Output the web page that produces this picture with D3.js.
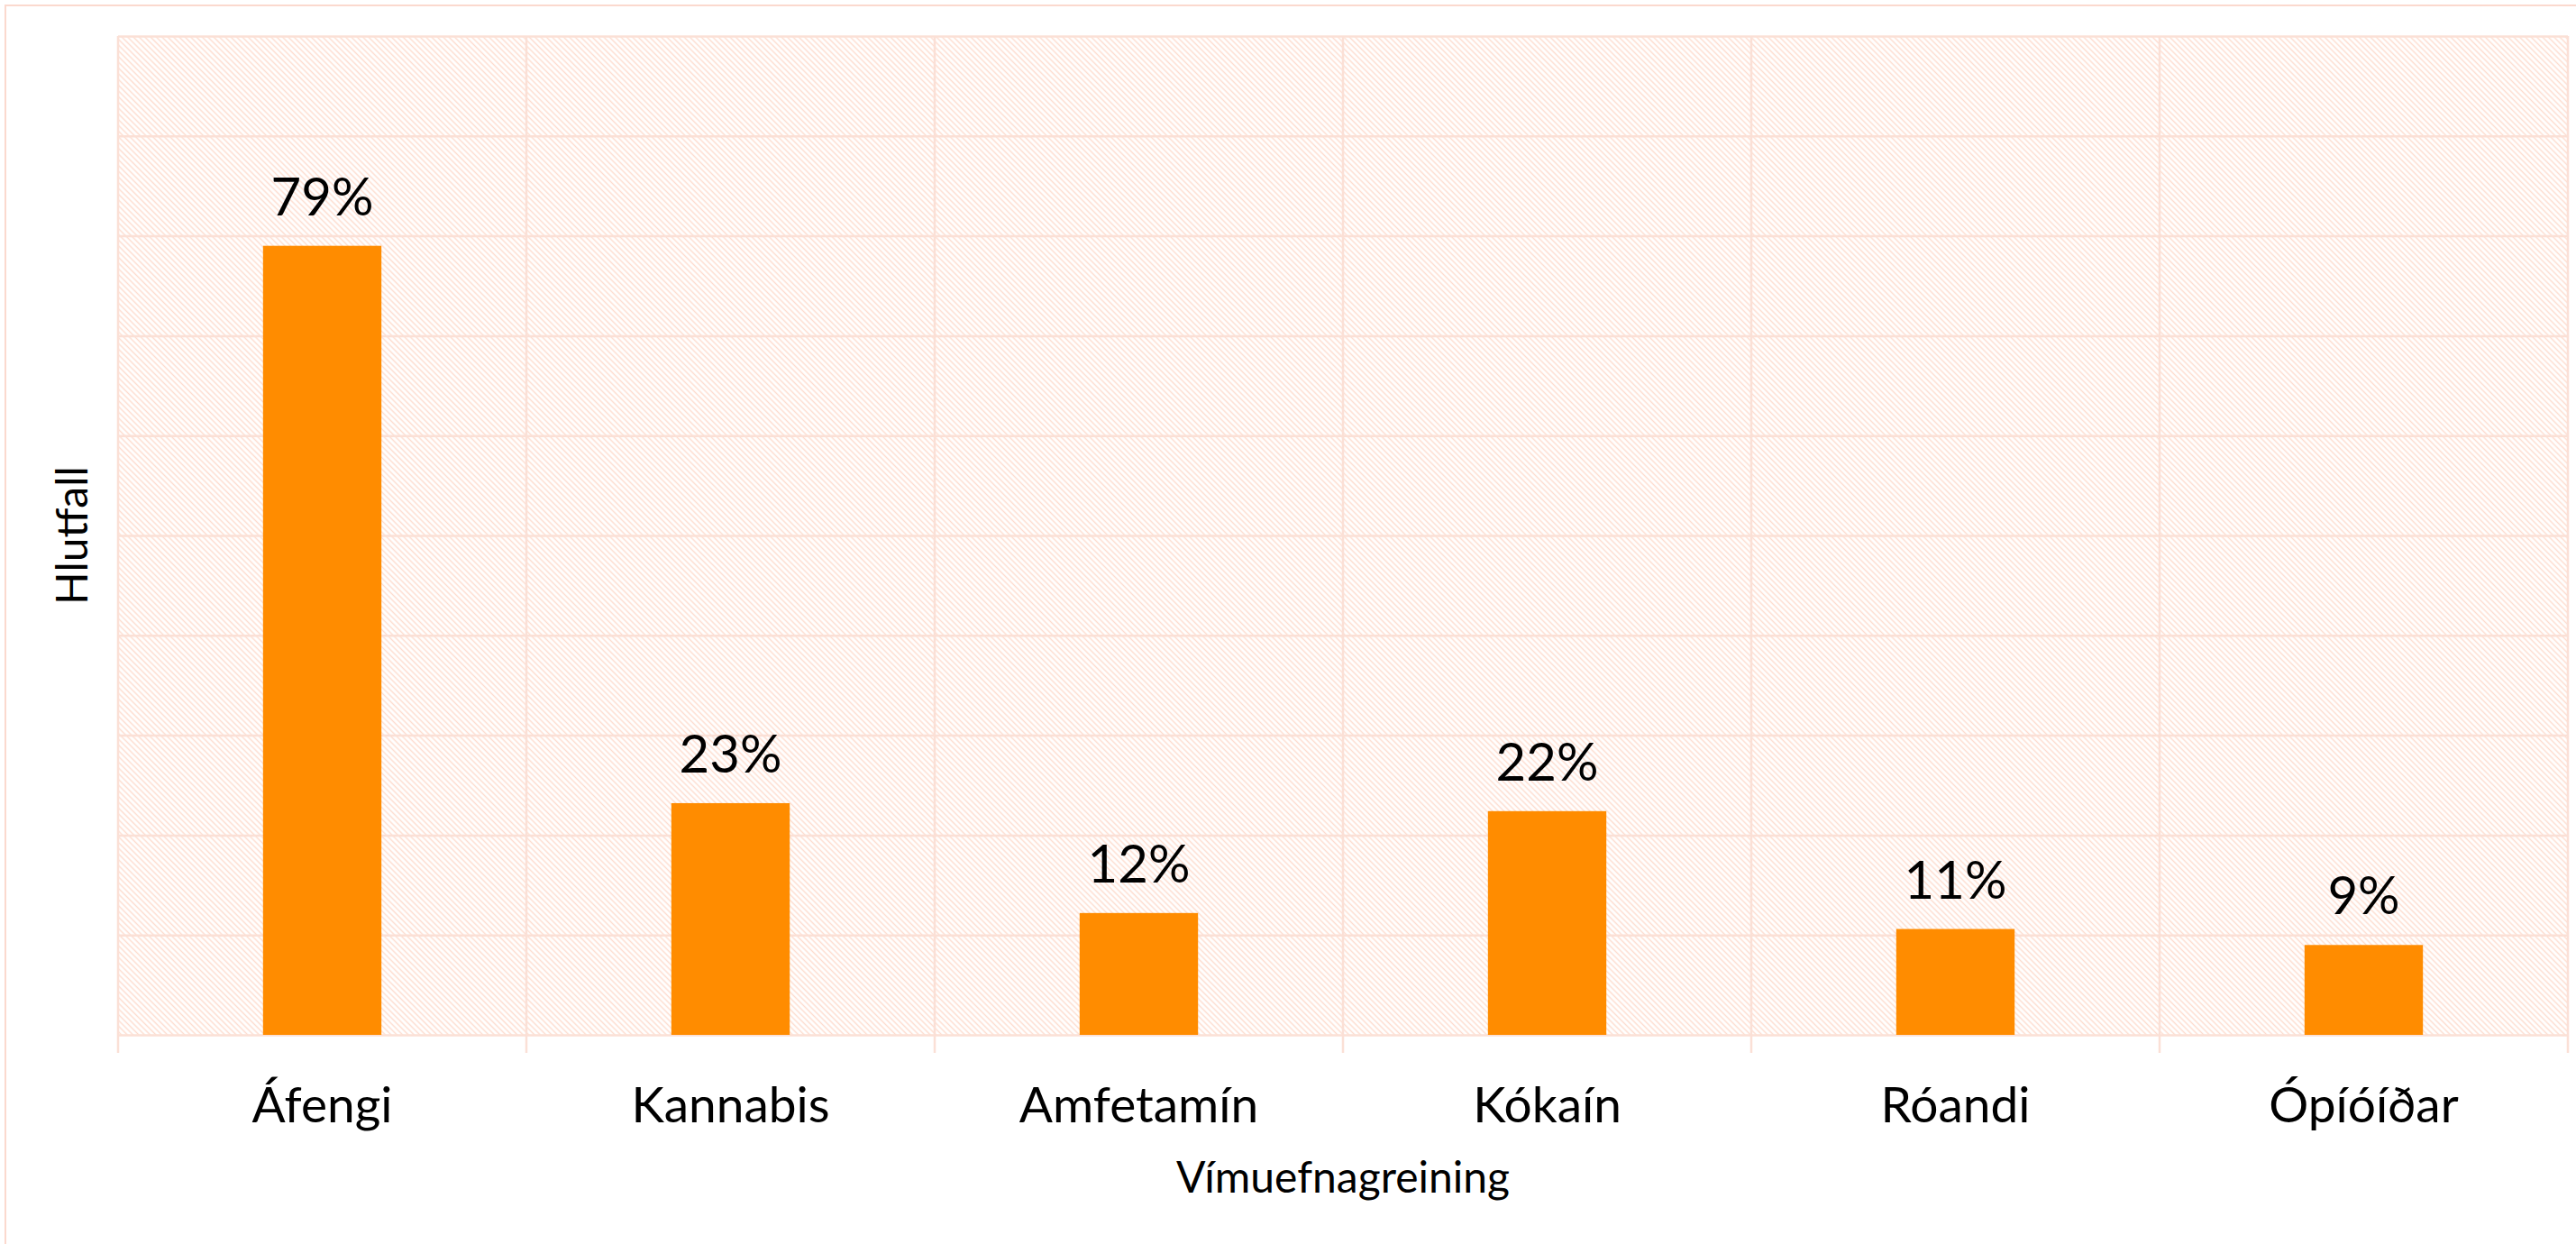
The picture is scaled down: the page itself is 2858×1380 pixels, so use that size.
<!DOCTYPE html>
<html>
<head>
<meta charset="utf-8">
<script src="https://cdn.jsdelivr.net/npm/d3@7"></script>
<style>
  body { margin: 0; background: #fff; }
  text { font-family: Lato, "Open Sans", sans-serif; fill: #000; }
</style>
</head>
<body>
<div id="main"></div>
<script>
// data
const categories = ['Áfengi', 'Kannabis', 'Amfetamín', 'Kókaín', 'Róandi', 'Ópíóíðar'];
const values = [0.79, 0.232, 0.122, 0.224, 0.106, 0.09];
const yTicks = [0, 0.1, 0.2, 0.3, 0.4, 0.5, 0.6, 0.7, 0.8, 0.9, 1.0];
const xTitle = 'Vímuefnagreining';
const yTitle = 'Hlutfall';

const width = 2858;
const height = 1380;
const margin = { top: 40, right: 9, bottom: 232, left: 131 };
const innerW = width - margin.left - margin.right;
const innerH = height - margin.top - margin.bottom;

const data = categories.map((c, i) => ({ name: c, value: values[i] }));

const svg = d3.select('#main').append('svg')
  .attr('width', width)
  .attr('height', height)
  .attr('viewBox', `0 0 ${width} ${height}`);

// hatch pattern for the plot background
const defs = svg.append('defs');
defs.append('pattern')
  .attr('id', 'hatch')
  .attr('patternUnits', 'userSpaceOnUse')
  .attr('width', 4.5)
  .attr('height', 4.5)
  .attr('patternTransform', 'rotate(-45)')
  .append('line')
  .attr('x1', 2.25).attr('y1', 0)
  .attr('x2', 2.25).attr('y2', 4.5)
  .attr('stroke', '#fddccf')
  .attr('stroke-width', 1.5);

// chart area frame (runs off the page on the right and bottom)
svg.append('rect')
  .attr('x', 6).attr('y', 6)
  .attr('width', width + 20).attr('height', height + 20)
  .attr('fill', '#fff')
  .attr('stroke', '#fbd9ce')
  .attr('stroke-width', 2);

const x = d3.scaleBand()
  .domain(categories)
  .range([0, innerW])
  .paddingInner(0)
  .paddingOuter(0);

const y = d3.scaleLinear()
  .domain([0, 1])
  .range([innerH, 0]);

const chart = svg.append('g')
  .attr('transform', `translate(${margin.left}, ${margin.top})`);

chart.append('rect')
  .attr('width', innerW)
  .attr('height', innerH)
  .attr('fill', 'url(#hatch)');

// horizontal gridlines
chart.append('g')
  .attr('class', 'grid-y')
  .call(d3.axisLeft(y).tickValues(yTicks).tickSize(-innerW).tickFormat(''))
  .call(g => g.select('.domain').remove())
  .call(g => g.selectAll('line').attr('stroke', '#fbe0d6').attr('stroke-width', 2.5));

// vertical category boundaries, running a bit below the baseline
const bounds = categories.map(c => x(c)).concat([x.range()[1]]);
chart.append('g')
  .selectAll('line')
  .data(bounds)
  .enter()
  .append('line')
  .attr('x1', d => d).attr('x2', d => d)
  .attr('y1', 0).attr('y2', innerH + 20)
  .attr('stroke', '#fbe0d6')
  .attr('stroke-width', 2.5);

const barW = x.bandwidth() * 0.29;

chart.selectAll('.bar')
  .data(data)
  .enter()
  .append('rect')
  .attr('class', 'bar')
  .attr('x', d => x(d.name) + (x.bandwidth() - barW) / 2)
  .attr('y', d => y(d.value))
  .attr('width', barW)
  .attr('height', d => innerH - y(d.value))
  .attr('fill', '#ff8c00');

chart.selectAll('.val')
  .data(data)
  .enter()
  .append('text')
  .attr('class', 'val')
  .attr('x', d => x(d.name) + x.bandwidth() / 2)
  .attr('y', d => y(d.value) - 34)
  .attr('text-anchor', 'middle')
  .style('font-size', '58px')
  .text(d => d3.format('.0%')(d.value));

// category axis
chart.append('g')
  .attr('transform', `translate(0, ${innerH})`)
  .call(d3.axisBottom(x).tickSize(0).tickPadding(0))
  .call(g => g.select('.domain').remove())
  .call(g => g.selectAll('text')
    .attr('y', 97)
    .attr('dy', 0)
    .style('font-size', '55px')
    .style('font-family', 'Lato, sans-serif')
    .attr('fill', '#000'));

svg.append('text')
  .attr('x', margin.left + innerW / 2)
  .attr('y', 1323)
  .attr('text-anchor', 'middle')
  .style('font-size', '48px')
  .text(xTitle);

svg.append('text')
  .attr('transform', `translate(97, ${margin.top + innerH / 2}) rotate(-90)`)
  .attr('text-anchor', 'middle')
  .style('font-size', '48px')
  .text(yTitle);
</script>
</body>
</html>
